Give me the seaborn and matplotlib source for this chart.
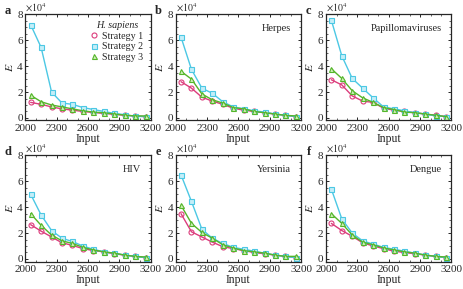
import numpy as np
import pandas as pd

import matplotlib
matplotlib.use('Agg')

import matplotlib.pyplot as plt
from matplotlib.ticker import MultipleLocator

import seaborn as sns

inputs = [2050, 2150, 2250, 2350, 2450, 2550, 2650, 2750, 2850, 2950, 3050, 3150]

panels = ['a', 'b', 'c', 'd', 'e', 'f']
species = ['H. sapiens', 'Herpes', 'Papillomaviruses', 'HIV', 'Yersinia', 'Dengue']

# values in units of 1e4
s1 = [
    [1.2, 1.05, 0.85, 0.7, 0.6, 0.5, 0.42, 0.35, 0.28, 0.2, 0.15, 0.1],
    [2.8, 2.3, 1.6, 1.3, 1.05, 0.75, 0.6, 0.5, 0.4, 0.3, 0.2, 0.1],
    [2.95, 2.55, 1.7, 1.3, 1.2, 0.75, 0.6, 0.5, 0.4, 0.3, 0.2, 0.1],
    [2.65, 2.15, 1.7, 1.25, 1.05, 0.8, 0.65, 0.55, 0.4, 0.3, 0.2, 0.1],
    [3.5, 2.1, 1.7, 1.3, 0.95, 0.8, 0.65, 0.5, 0.4, 0.3, 0.2, 0.1],
    [2.75, 2.2, 1.75, 1.25, 1.0, 0.8, 0.6, 0.5, 0.4, 0.3, 0.2, 0.1],
]
s2 = [
    [7.2, 5.45, 2.0, 1.15, 1.05, 0.8, 0.65, 0.5, 0.35, 0.25, 0.12, 0.1],
    [6.25, 3.75, 2.3, 1.9, 1.25, 0.85, 0.7, 0.55, 0.45, 0.3, 0.2, 0.1],
    [7.55, 4.8, 3.05, 2.3, 1.55, 0.85, 0.7, 0.55, 0.4, 0.3, 0.15, 0.1],
    [5.0, 3.4, 2.2, 1.6, 1.35, 1.0, 0.75, 0.55, 0.45, 0.3, 0.2, 0.1],
    [6.5, 4.45, 2.3, 1.6, 1.2, 0.9, 0.75, 0.6, 0.45, 0.3, 0.2, 0.1],
    [5.4, 3.1, 2.0, 1.4, 1.15, 0.9, 0.75, 0.6, 0.45, 0.3, 0.2, 0.1],
]
s3 = [
    [1.75, 1.25, 1.0, 0.85, 0.7, 0.55, 0.45, 0.4, 0.3, 0.22, 0.15, 0.15],
    [3.6, 3.0, 1.85, 1.4, 1.15, 0.8, 0.7, 0.5, 0.4, 0.3, 0.2, 0.15],
    [3.8, 3.05, 2.1, 1.55, 1.2, 0.8, 0.65, 0.45, 0.4, 0.3, 0.2, 0.1],
    [3.5, 2.6, 1.85, 1.4, 1.2, 0.9, 0.7, 0.55, 0.45, 0.3, 0.2, 0.15],
    [4.15, 2.75, 2.05, 1.6, 1.1, 0.85, 0.65, 0.55, 0.45, 0.3, 0.2, 0.2],
    [3.5, 2.75, 1.85, 1.3, 1.1, 0.85, 0.7, 0.55, 0.45, 0.3, 0.2, 0.15],
]

strategies = ['Strategy 1', 'Strategy 2', 'Strategy 3']
colors = ['#dc3d7c', '#4cc8e4', '#55b62a']
faces = ['none', '#c4eef8', '#cdeeb8']
markers = ['o', 's', '^']

sns.set_style('ticks')
plt.rcParams['font.family'] = ['Liberation Serif', 'DejaVu Serif']
plt.rcParams['mathtext.fontset'] = 'stix'

fig, axes = plt.subplots(2, 3, figsize=(4.63, 2.89), dpi=100)
fig.subplots_adjust(left=0.055, right=0.975, top=0.95, bottom=0.095, wspace=0.2, hspace=0.33)

for i, ax in enumerate(axes.flat):
    series = [s1[i], s2[i], s3[i]]
    for j in range(3):
        df = pd.DataFrame({'Input': inputs, 'E': series[j]})
        sns.lineplot(data=df, x='Input', y='E', ax=ax, color=colors[j], lw=1.0,
                     marker=markers[j], markersize=3.6, markerfacecolor=faces[j],
                     markeredgecolor=colors[j], markeredgewidth=0.8, label=strategies[j])
    ax.set_xlim(2000, 3200)
    ax.set_ylim(-0.2, 8)
    ax.set_xticks([2000, 2300, 2600, 2900, 3200])
    ax.set_yticks([0, 2, 4, 6, 8])
    ax.xaxis.set_minor_locator(MultipleLocator(100))
    ax.yaxis.set_minor_locator(MultipleLocator(0.5))
    ax.tick_params(which='both', direction='in', top=True, right=True, labelsize=8)
    ax.tick_params(axis='x', pad=2.5)
    ax.tick_params(axis='y', pad=2)
    ax.tick_params(which='major', length=2.5, width=0.7)
    ax.tick_params(which='minor', length=1.5, width=0.5)
    for sp in ax.spines.values():
        sp.set_linewidth(0.9)
    ax.set_xlabel('Input', fontsize=8.5, labelpad=0)
    ax.set_ylabel('$E$', fontsize=8.5, labelpad=1)
    ax.text(0.0, 1.0, r'$\times 10^4$', transform=ax.transAxes, fontsize=7,
            ha='left', va='bottom')
    ax.text(-0.14, 1.03, panels[i], transform=ax.transAxes, fontsize=9,
            fontweight='bold', ha='center', va='center')
    if i == 0:
        leg = ax.legend(title=species[i], loc='upper right', fontsize=7.2,
                        title_fontsize=7.2, frameon=False, handlelength=0.8,
                        handletextpad=0.4, labelspacing=0.15, borderaxespad=0.3)
        leg.get_title().set_fontstyle('italic')
        for h in leg.legend_handles:
            h.set_linestyle('none')
    else:
        ax.get_legend().remove()
        ax.text(0.92, 0.87, species[i], transform=ax.transAxes, fontsize=7.5,
                ha='right', va='center')

plt.savefig('out.png', dpi=100)
